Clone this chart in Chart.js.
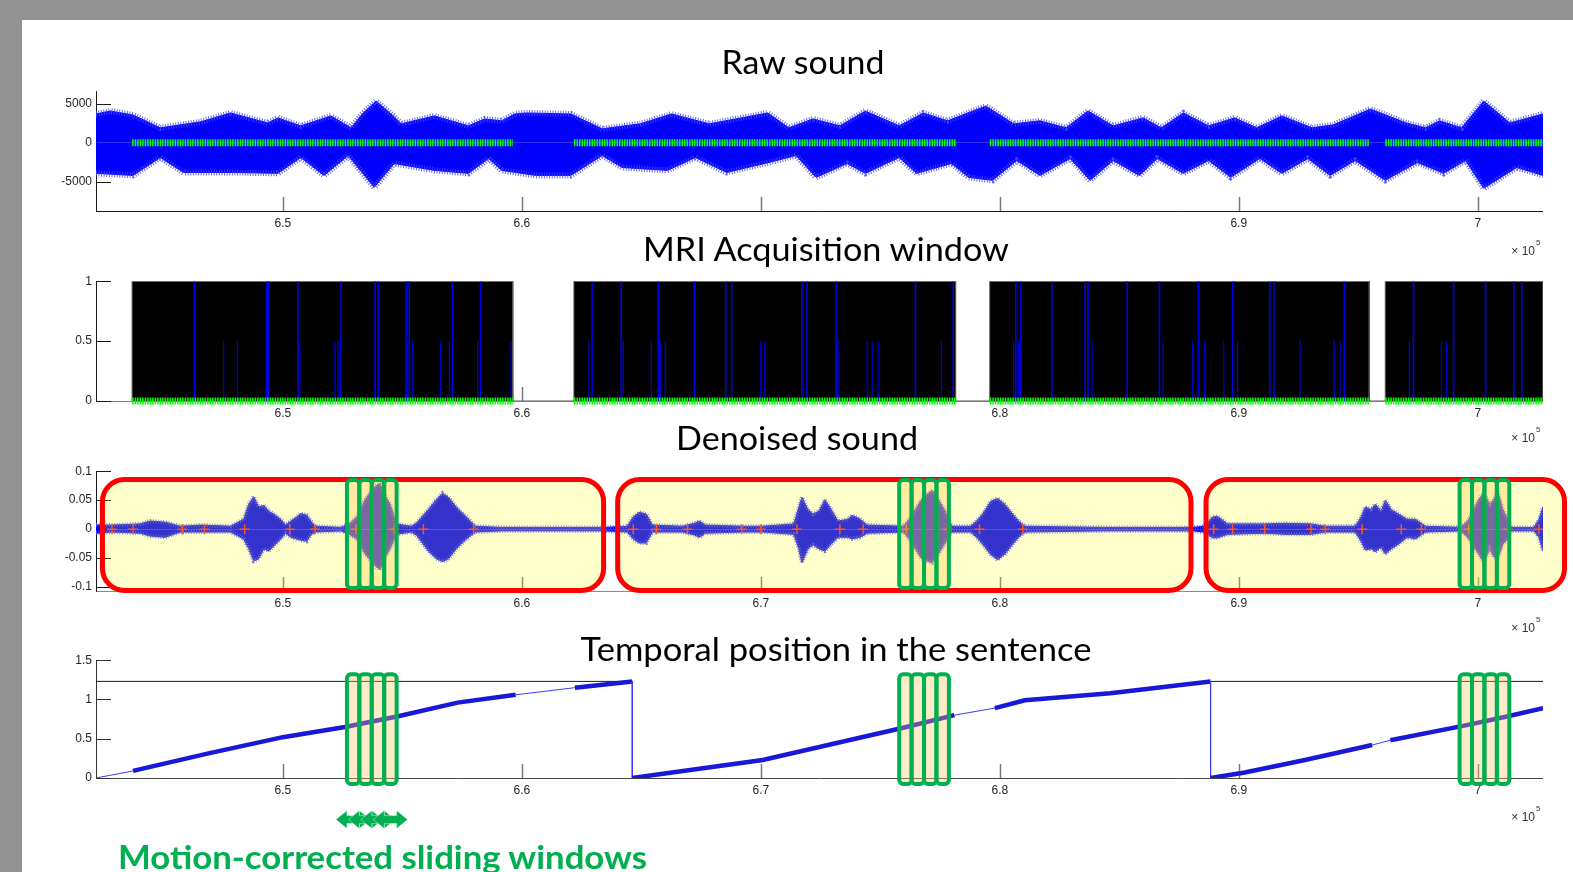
<!DOCTYPE html>
<html>
<head>
<meta charset="utf-8">
<title>Sound / MRI windows</title>
<script src="https://cdn.jsdelivr.net/npm/chart.js@4.4.1/dist/chart.umd.min.js"></script>
<style>
  html, body { margin: 0; padding: 0; }
  body { width: 1573px; height: 872px; background: #939393; position: relative; overflow: hidden; }
  #sheet { position: absolute; left: 22px; top: 20px; right: 0; bottom: 0; background: #fff; }
  canvas { position: absolute; left: 0; }
  svg { position: absolute; left: 0; top: 0; }
</style>
</head>
<body>
<div id="sheet"></div>
<canvas id="raw" width="1573" height="155" style="top:80px"></canvas>
<canvas id="mri" width="1573" height="155" style="top:270px"></canvas>
<canvas id="den" width="1573" height="155" style="top:460px"></canvas>
<canvas id="pos" width="1573" height="189" style="top:649px"></canvas>

<svg width="1573" height="872">
  <g font-family="Lato, 'Open Sans', sans-serif" font-size="33" fill="#000" text-anchor="middle">
    <text x="803" y="74" textLength="163" lengthAdjust="spacingAndGlyphs">Raw sound</text>
    <text x="826" y="261" textLength="366" lengthAdjust="spacingAndGlyphs">MRI Acquisition window</text>
    <text x="797" y="450" textLength="242" lengthAdjust="spacingAndGlyphs">Denoised sound</text>
    <text x="836" y="661" textLength="511" lengthAdjust="spacingAndGlyphs">Temporal position in the sentence</text>
  </g>
  <text x="118" y="869" font-family="Lato, 'Open Sans', sans-serif" font-weight="bold" font-size="33" fill="#00b050"
        textLength="529" lengthAdjust="spacingAndGlyphs">Motion-corrected sliding windows</text>
  <g font-family="'Liberation Sans', Arial, sans-serif" fill="#333">
    <text x="1535" y="255" font-size="12" text-anchor="end">× 10</text><text x="1536" y="245" font-size="8">5</text>
    <text x="1535" y="442" font-size="12" text-anchor="end">× 10</text><text x="1536" y="432" font-size="8">5</text>
    <text x="1535" y="632" font-size="12" text-anchor="end">× 10</text><text x="1536" y="622" font-size="8">5</text>
    <text x="1535" y="821" font-size="12" text-anchor="end">× 10</text><text x="1536" y="811" font-size="8">5</text>
  </g>
</svg>

<script>
// x axis is in samples x 10^5
const X_MIN = 6.4218, X_MAX = 7.0273;
const xTicks = [6.5, 6.6, 6.7, 6.8, 6.9, 7];
const xLabelsRaw = ['6.5', '6.6', '', '', '6.9', '7'];
const xLabelsMri = ['6.5', '6.6', '', '6.8', '6.9', '7'];
const xLabelsAll = ['6.5', '6.6', '6.7', '6.8', '6.9', '7'];

// raw sound, envelope
const rawTicks = [5000, 0, -5000];
const rawTickLabels = ['5000', '0', '-5000'];
const rawTopX = [6.4218, 6.4277, 6.4373, 6.4487, 6.4655, 6.4781, 6.4937, 6.4979, 6.5075, 6.5201,
  6.5285, 6.5336, 6.5390, 6.5462, 6.5495, 6.5634, 6.5777, 6.5844, 6.5916, 6.5970,
  6.6016, 6.6205, 6.6336, 6.6495, 6.6626, 6.6785, 6.7029, 6.7117, 6.7218, 6.7331,
  6.7437, 6.7579, 6.7680, 6.7781, 6.7941, 6.8058, 6.8168, 6.8277, 6.8369, 6.8474,
  6.8600, 6.8676, 6.8768, 6.8874, 6.8983, 6.9075, 6.9180, 6.9306, 6.9395, 6.9550,
  6.9701, 6.9781, 6.9840, 6.9932, 7.0025, 7.0134, 7.0273];
const rawTopY = [3670, 4050, 3540, 1900, 2660, 3800, 2530, 3170, 2150, 3420,
  1900, 3800, 5320, 3420, 2410, 3420, 2150, 3040, 2790, 3670,
  3800, 3670, 1770, 2410, 3670, 2410, 3800, 1900, 3040, 2150,
  4050, 2150, 3800, 2790, 4680, 2410, 2790, 1900, 4050, 2150,
  3170, 1900, 3800, 2150, 3170, 1900, 3420, 1900, 2280, 4300,
  2530, 1900, 2790, 1900, 5320, 2530, 3670];
const rawBotX = [6.4218, 6.4373, 6.4487, 6.4584, 6.4794, 6.4979, 6.5075, 6.5172, 6.5273, 6.5382,
  6.5466, 6.5634, 6.5777, 6.5861, 6.5916, 6.6058, 6.6205, 6.6336, 6.6420, 6.6609,
  6.6726, 6.6857, 6.7016, 6.7147, 6.7231, 6.7361, 6.7437, 6.7579, 6.7651, 6.7798,
  6.7869, 6.7970, 6.8071, 6.8168, 6.8294, 6.8378, 6.8474, 6.8584, 6.8659, 6.8768,
  6.8874, 6.8966, 6.9088, 6.9180, 6.9289, 6.9382, 6.9487, 6.9613, 6.9747, 6.9857,
  6.9949, 7.0025, 7.0163, 7.0273];
const rawBotY = [-3920, -4180, -1900, -3800, -3800, -3920, -1900, -4180, -1650, -5700,
  -2660, -3540, -3920, -2030, -3540, -4180, -4180, -1650, -3170, -3540,
  -1900, -3800, -2660, -1650, -4430, -2660, -3920, -1900, -3920, -2660,
  -4430, -4810, -2280, -4180, -2030, -4810, -2280, -4180, -2030, -3920,
  -2280, -4430, -2030, -3920, -2030, -4180, -2280, -4810, -2530, -3920,
  -2280, -5820, -3170, -4180];

// MRI acquisition windows
const mriTicks = [1, 0.5, 0];
const mriTickLabels = ['1', '0.5', '0'];
const acqStart = [6.4369, 6.6218, 6.7958, 6.9613];
const acqEnd = [6.5962, 6.7815, 6.9546, 7.0273];
const gapFullX = [6.4630, 6.4932, 6.4941, 6.5063, 6.5243, 6.5386, 6.5399, 6.5516, 6.5529, 6.5710, 6.5827,
  6.6294, 6.6416, 6.6571, 6.6722, 6.6853, 6.6878, 6.7172, 6.7193, 6.7315, 6.7647, 6.7805,
  6.8067, 6.8088, 6.8218, 6.8357, 6.8369, 6.8533, 6.8668, 6.8831, 6.8974, 6.9130, 6.9147, 6.9441,
  6.9731, 6.9899, 7.0033, 7.0151, 7.0184];
const gapHalfX = [6.4752, 6.4810, 6.5071, 6.5218, 6.5231, 6.5542, 6.5659, 6.5697, 6.5815, 6.5955,
  6.6281, 6.6424, 6.6542, 6.6579, 6.6600, 6.7000, 6.7016, 6.7323, 6.7445, 6.7466, 6.7491, 6.7756,
  6.8058, 6.8079, 6.8386, 6.8684, 6.8806, 6.8857, 6.8937, 6.8995, 6.9256, 6.9399, 6.9424,
  6.9714, 6.9848, 6.9869];
const gapFull = 1, gapHalf = 0.5;

// denoised sound, envelope
const denTicks = [0.1, 0.05, 0, -0.05, -0.1];
const denTickLabels = ['0.1', '0.05', '0', '-0.05', '-0.1'];
const denX = [
  6.4218, 6.4285, 6.4403, 6.4445, 6.4508, 6.4571, 6.4655, 6.4781,
  6.4836, 6.4857, 6.4878, 6.4899, 6.4920, 6.4941, 6.4962, 6.4991, 6.5012,
  6.5033, 6.5058, 6.5075, 6.5100, 6.5117, 6.5134, 6.5243,
  6.5277, 6.5310, 6.5344, 6.5369, 6.5390, 6.5407, 6.5424, 6.5449, 6.5474, 6.5537,
  6.5558, 6.5609, 6.5642, 6.5668, 6.5693, 6.5726, 6.5768, 6.5806, 6.5916, 6.6168, 6.6352,
  6.6441, 6.6466, 6.6491, 6.6521, 6.6546, 6.6672, 6.6722, 6.6743, 6.6768, 6.6924, 6.7008,
  6.7138, 6.7159, 6.7172, 6.7197, 6.7218, 6.7243, 6.7268, 6.7294, 6.7323, 6.7365, 6.7382, 6.7416, 6.7445,
  6.7596, 6.7621, 6.7647, 6.7672, 6.7701, 6.7718, 6.7743, 6.7768, 6.7798,
  6.7878, 6.7903, 6.7928, 6.7962, 6.7991, 6.8021, 6.8054, 6.8079, 6.8105, 6.8437, 6.8810,
  6.8857, 6.8890, 6.8911, 6.8953, 6.9109, 6.9193, 6.9302, 6.9361, 6.9487,
  6.9512, 6.9529, 6.9554, 6.9571, 6.9596, 6.9613, 6.9638, 6.9668, 6.9705, 6.9739, 6.9781,
  6.9928, 6.9958, 6.9983, 7.0004, 7.0025, 7.0050, 7.0067, 7.0084, 7.0105, 7.0126, 7.0138, 7.0235, 7.0256, 7.0273];
const denTop = [
  .007, .007, .009, .014, .012, .005, .007, .005,
  .017, .043, .056, .038, .041, .031, .026, .017, .007,
  .014, .021, .027, .024, .014, .005, .003,
  .009, .021, .051, .065, .075, .079, .060, .043, .009, .005,
  .010, .034, .051, .062, .055, .038, .021, .005, .003, .003, .003,
  .005, .021, .029, .026, .007, .005, .010, .014, .007, .005, .005,
  .009, .038, .055, .034, .026, .031, .051, .034, .014, .017, .024, .017, .007,
  .005, .017, .034, .051, .062, .067, .051, .034, .005,
  .005, .014, .026, .048, .053, .043, .026, .014, .005, .003, .003,
  .005, .021, .022, .009, .009, .010, .009, .005, .005,
  .021, .038, .034, .043, .031, .050, .034, .026, .017, .017, .005,
  .003, .014, .034, .051, .063, .043, .051, .065, .034, .017, .003, .003, .017, .038];
const denBot = [
  -.007, -.005, -.007, -.012, -.014, -.005, -.005, -.005,
  -.017, -.034, -.055, -.051, -.034, -.038, -.029, -.017, -.007,
  -.014, -.017, -.019, -.021, -.010, -.005, -.003,
  -.009, -.017, -.043, -.055, -.065, -.070, -.051, -.034, -.009, -.005,
  -.010, -.038, -.051, -.056, -.051, -.034, -.017, -.005, -.003, -.003, -.003,
  -.005, -.017, -.024, -.024, -.005, -.005, -.010, -.014, -.007, -.005, -.005,
  -.009, -.034, -.058, -.034, -.027, -.034, -.038, -.026, -.014, -.014, -.017, -.014, -.007,
  -.005, -.017, -.034, -.051, -.056, -.058, -.043, -.026, -.005,
  -.005, -.014, -.026, -.044, -.053, -.043, -.026, -.014, -.005, -.003, -.003,
  -.005, -.015, -.015, -.009, -.007, -.009, -.009, -.005, -.005,
  -.021, -.036, -.034, -.039, -.031, -.043, -.034, -.026, -.014, -.017, -.005,
  -.003, -.014, -.031, -.043, -.058, -.034, -.048, -.051, -.026, -.017, -.003, -.003, -.014, -.038];
// red + marks on the zero line
const onsetX = [6.4285, 6.4373, 6.4579, 6.4672, 6.4840, 6.5029, 6.5134, 6.5306, 6.5466, 6.5588, 6.5798,
  6.6466, 6.6563, 6.6693, 6.6920, 6.7000, 6.7151, 6.7331, 6.7428, 6.7609, 6.7781, 6.7915, 6.8096,
  6.8895, 6.8974, 6.9109, 6.9302, 6.9361, 6.9516, 6.9680, 6.9764, 6.9962, 7.0126, 7.0256];
// sentences (red boxes)
const sentenceSpans = [[6.4245, 6.6342], [6.6401, 6.8800], [6.8863, 7.0363]];

// temporal position in the sentence
const posTicks = [1.5, 1, 0.5, 0];
const posTickLabels = ['1.5', '1', '0.5', '0'];
const posX = [6.4218, 6.4373, 6.4684, 6.5000, 6.5260, 6.5487, 6.5731, 6.5974, 6.6222, 6.6462,
  6.6462, 6.7008, 6.7596, 6.7810, 6.7979, 6.8105, 6.8462, 6.8882,
  6.8882, 6.9025, 6.9277, 6.9558, 6.9634, 6.9949, 7.0117, 7.0273];
const posY = [0, 0.09, 0.31, 0.52, 0.65, 0.79, 0.96, 1.06, 1.15, 1.23,
  0, 0.23, 0.64, 0.80, 0.89, 0.99, 1.08, 1.23,
  0, 0.07, 0.23, 0.42, 0.48, 0.67, 0.78, 0.89];
const thinGaps = [[6.4218, 6.4373], [6.5974, 6.6222], [6.7810, 6.7979], [6.9558, 6.9634]];
const sentenceLevel = 1.23;
const levelSpans = [[6.4218, 6.6462], [6.8882, 7.0273]];

// motion-corrected sliding windows
const windowStarts = [6.5268, 6.7579, 6.9924];
const windowWidth = 0.0052;
const windowCount = 4;

const BLUE = '#0000ff';
const TXT = '#262626';
const TICKFONT = { family: "'Liberation Sans', Arial, sans-serif", size: 12 };

function pts(xs, ys) { return xs.map((x, i) => ({ x: x, y: ys[i] })); }

function acqZeroLine() {
  const out = [];
  acqStart.forEach((s, i) => { out.push({ x: s, y: 0 }, { x: acqEnd[i], y: 0 }, { x: acqEnd[i], y: null }); });
  return out;
}
function acqBlocks() {
  const out = [];
  acqStart.forEach((s, i) => { out.push({ x: s, y: 0 }, { x: s, y: 1 }, { x: acqEnd[i], y: 1 }, { x: acqEnd[i], y: 0 }); });
  return out;
}
function sticks(xs, h) {
  const out = [];
  xs.forEach(x => { out.push({ x: x, y: 0 }, { x: x, y: h }, { x: x, y: null }); });
  return out;
}

function seg(ctx, x0, y0, x1, y1) { ctx.beginPath(); ctx.moveTo(x0, y0); ctx.lineTo(x1, y1); ctx.stroke(); }

function axesPlugin(c) {
  return {
    id: 'mlAxes',
    beforeDatasetsDraw(chart) {
      const { ctx, chartArea: a, scales: { x, y } } = chart;
      ctx.save();
      ctx.lineWidth = 1;
      ctx.strokeStyle = c.xAxis;
      seg(ctx, a.left, a.bottom + 0.5, a.right, a.bottom + 0.5);
      ctx.strokeStyle = c.yAxis;
      seg(ctx, a.left + 0.5, a.top, a.left + 0.5, a.bottom + 1);
      ctx.strokeStyle = c.yTick;
      y.ticks.forEach(t => {
        const p = Math.round(y.getPixelForValue(t.value)) + 0.5;
        seg(ctx, a.left, p, a.left + 15, p);
      });
      ctx.strokeStyle = c.xTick;
      ctx.lineWidth = 1.5;
      x.ticks.forEach(t => {
        const p = Math.round(x.getPixelForValue(t.value)) + 0.5;
        seg(ctx, p, a.bottom, p, a.bottom - 14);
      });
      ctx.restore();
    }
  };
}

function rrect(ctx, l, t, w, h, r) {
  ctx.beginPath();
  if (ctx.roundRect) ctx.roundRect(l, t, w, h, r);
  else ctx.rect(l, t, w, h);
}

function windowsPlugin(c) {
  return {
    id: 'windows',
    afterDatasetsDraw(chart) {
      const { ctx, scales: { x, y } } = chart;
      ctx.save();
      if (c.red) {
        const t = y.getPixelForValue(c.redTop), b = y.getPixelForValue(c.redBot);
        sentenceSpans.forEach(([s, e]) => {
          const l = x.getPixelForValue(s), r = x.getPixelForValue(e);
          rrect(ctx, l, t, r - l, b - t, 22);
          ctx.fillStyle = 'rgba(255,255,0,0.2)';
          ctx.fill();
          ctx.lineWidth = 5;
          ctx.strokeStyle = '#ff0000';
          ctx.stroke();
        });
      }
      const t = y.getPixelForValue(c.greenTop), b = y.getPixelForValue(c.greenBot);
      windowStarts.forEach(s0 => {
        for (let k = 0; k < windowCount; k++) {
          const l = x.getPixelForValue(s0 + k * windowWidth);
          const r = x.getPixelForValue(s0 + (k + 1) * windowWidth);
          rrect(ctx, l, t, r - l, b - t, 4);
          ctx.fillStyle = c.greenFill;
          ctx.fill();
          ctx.lineWidth = 4;
          ctx.strokeStyle = '#00b050';
          ctx.stroke();
        }
      });
      if (c.arrows) {
        const yc = y.getPixelForValue(c.arrowY);
        const hl = 11, hh = 9, sw = 4;
        for (let k = 0; k < windowCount; k++) {
          const s = x.getPixelForValue(windowStarts[0] + k * windowWidth);
          const e = x.getPixelForValue(windowStarts[0] + (k + 1) * windowWidth);
          const l = s - hl, r = e + hl;
          ctx.beginPath();
          ctx.moveTo(l, yc);
          ctx.lineTo(s, yc - hh); ctx.lineTo(s, yc - sw); ctx.lineTo(e, yc - sw); ctx.lineTo(e, yc - hh);
          ctx.lineTo(r, yc);
          ctx.lineTo(e, yc + hh); ctx.lineTo(e, yc + sw); ctx.lineTo(s, yc + sw); ctx.lineTo(s, yc + hh);
          ctx.closePath();
          ctx.fillStyle = '#00b050';
          ctx.fill();
          ctx.lineWidth = 0.7;
          ctx.strokeStyle = 'rgba(255,255,255,0.6)';
          ctx.stroke();
        }
      }
      ctx.restore();
    }
  };
}

function base(c) {
  return {
    responsive: false,
    animation: false,
    devicePixelRatio: 1,
    events: [],
    layout: { padding: { left: 0, right: 30, top: 10, bottom: 0 } },
    elements: { point: { radius: 0, hoverRadius: 0 }, line: { tension: 0 } },
    plugins: { legend: { display: false }, tooltip: { enabled: false } },
    scales: {
      x: {
        type: 'linear', min: X_MIN, max: X_MAX, offset: false,
        grid: { display: false, drawTicks: false }, border: { display: false },
        afterBuildTicks: s => { s.ticks = xTicks.map(v => ({ value: v })); },
        afterFit: s => { s.height = c.xH; },
        ticks: { autoSkip: false, maxRotation: 0, padding: 5, color: TXT, font: TICKFONT,
          callback: (v, i) => c.xLabels[i] }
      },
      y: {
        type: 'linear', min: c.yMin, max: c.yMax,
        grid: { display: false, drawTicks: false }, border: { display: false },
        afterBuildTicks: s => { s.ticks = c.yTicks.map(v => ({ value: v })); },
        afterFit: s => { s.width = 96; },
        ticks: { autoSkip: false, padding: 4, color: TXT, font: TICKFONT,
          callback: (v, i) => c.yLabels[i] }
      }
    }
  };
}

// Chart.js paints the first dataset last, so the top layer comes first below.
const GREEN_TICKS = { borderColor: '#00ff00', borderWidth: 7, borderDash: [1.6, 0.9], clip: false };
// ragged fringe on the envelope edges, a stroke style only
const FRINGE = { fill: false, borderColor: 'rgba(70,70,255,0.85)', borderWidth: 6, borderDash: [1, 1.6] };

// 1. raw sound
new Chart(document.getElementById('raw'), {
  type: 'line',
  data: {
    datasets: [
      Object.assign({ data: acqZeroLine() }, GREEN_TICKS),
      Object.assign({ data: pts(rawTopX, rawTopY) }, FRINGE),
      Object.assign({ data: pts(rawBotX, rawBotY) }, FRINGE),
      { data: pts(rawTopX, rawTopY), fill: 'origin', backgroundColor: BLUE, borderColor: BLUE, borderWidth: 1 },
      { data: pts(rawBotX, rawBotY), fill: 'origin', backgroundColor: BLUE, borderColor: BLUE, borderWidth: 1 }
    ]
  },
  options: base({ yMin: -8730, yMax: 6580, yTicks: rawTicks, yLabels: rawTickLabels, xLabels: xLabelsRaw, xH: 24 }),
  plugins: [axesPlugin({ xAxis: '#1a1a1a', yAxis: '#1a1a1a', yTick: '#1a1a1a', xTick: '#7a7a7a' })]
});

// 2. MRI acquisition window
new Chart(document.getElementById('mri'), {
  type: 'line',
  data: {
    datasets: [
      Object.assign({ data: acqZeroLine() }, GREEN_TICKS),
      { data: sticks(gapHalfX, gapHalf), borderColor: '#0000d0', borderWidth: 1.3 },
      { data: sticks(gapFullX, gapFull), borderColor: '#0000e6', borderWidth: 1.6 },
      { data: acqBlocks(), fill: 'origin', backgroundColor: '#000', borderColor: '#555', borderWidth: 1 }
    ]
  },
  options: base({ yMin: 0, yMax: 1, yTicks: mriTicks, yLabels: mriTickLabels, xLabels: xLabelsMri, xH: 24 }),
  plugins: [axesPlugin({ xAxis: '#7a7a7a', yAxis: '#1a1a1a', yTick: '#1a1a1a', xTick: '#7a7a7a' })]
});

// 3. denoised sound
new Chart(document.getElementById('den'), {
  type: 'line',
  data: {
    datasets: [
      { data: onsetX.map(x => ({ x: x, y: 0 })), showLine: false, pointStyle: 'cross', pointRadius: 5,
        borderColor: '#ff2a2a', borderWidth: 1.5 },
      Object.assign({ data: pts(denX, denTop) }, FRINGE, { borderWidth: 4 }),
      Object.assign({ data: pts(denX, denBot) }, FRINGE, { borderWidth: 4 }),
      { data: pts(denX, denTop), fill: 'origin', backgroundColor: BLUE, borderColor: BLUE, borderWidth: 1 },
      { data: pts(denX, denBot), fill: 'origin', backgroundColor: BLUE, borderColor: BLUE, borderWidth: 1 }
    ]
  },
  options: base({ yMin: -0.1068, yMax: 0.1, yTicks: denTicks, yLabels: denTickLabels, xLabels: xLabelsAll, xH: 24 }),
  plugins: [
    axesPlugin({ xAxis: '#8a8a8a', yAxis: '#1a1a1a', yTick: '#1a1a1a', xTick: '#7a7a7a' }),
    windowsPlugin({ red: true, redTop: 0.0855, redBot: -0.1060, greenTop: 0.0846, greenBot: -0.1017,
      greenFill: 'rgba(255,200,80,0.35)' })
  ]
});

// 4. temporal position in the sentence
function isThin(ctx) {
  const x0 = ctx.p0.parsed.x, x1 = ctx.p1.parsed.x;
  if (x0 === x1) return true;
  return thinGaps.some(([a, b]) => x0 >= a - 1e-9 && x1 <= b + 1e-9);
}
const levelLine = [];
levelSpans.forEach(([s, e]) => { levelLine.push({ x: s, y: sentenceLevel }, { x: e, y: sentenceLevel }, { x: e, y: null }); });

new Chart(document.getElementById('pos'), {
  type: 'line',
  data: {
    datasets: [
      { data: pts(posX, posY), borderColor: '#1818d8', borderWidth: 4.5,
        segment: {
          borderWidth: ctx => isThin(ctx) ? 1 : 4.5,
          borderColor: ctx => isThin(ctx) ? '#3a3aff' : '#1818d8'
        } },
      { data: levelLine, borderColor: '#1a1a1a', borderWidth: 1 }
    ]
  },
  options: base({ yMin: 0, yMax: 1.5, yTicks: posTicks, yLabels: posTickLabels, xLabels: xLabelsAll, xH: 60 }),
  plugins: [
    axesPlugin({ xAxis: '#444', yAxis: '#333', yTick: '#333', xTick: '#7a7a7a' }),
    windowsPlugin({ red: false, greenTop: 1.322, greenBot: -0.076, greenFill: 'rgba(250,195,100,0.35)',
      arrows: true, arrowY: -0.53 })
  ]
});
</script>
</body>
</html>
